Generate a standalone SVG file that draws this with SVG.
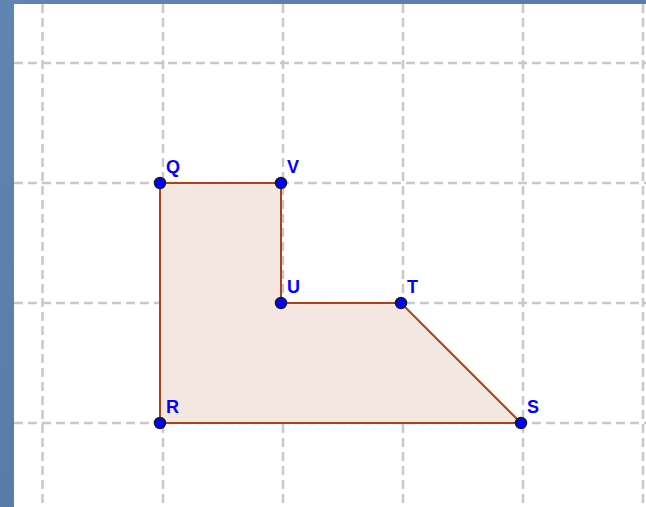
<svg xmlns="http://www.w3.org/2000/svg" width="646" height="507" viewBox="0 0 646 507">
<defs>
<linearGradient id="bg" x1="0" y1="0" x2="1" y2="1">
<stop offset="0" stop-color="#6085b0"/>
<stop offset="1" stop-color="#4f74a0"/>
</linearGradient>
<style>
.grid{stroke:#c8c8c8;stroke-width:2.5;stroke-dasharray:9,5;fill:none}
.edge{stroke:#a9441a;stroke-width:2;fill:none}
.pt{fill:#0000ff;stroke:#1a1a1a;stroke-width:1.5}
.lbl{font-family:"Liberation Sans",Arial,sans-serif;font-size:18px;font-weight:bold;fill:#0000ff}
</style>
</defs>
<rect x="0" y="0" width="646" height="507" fill="url(#bg)"/>
<rect x="14" y="4" width="632" height="503" fill="#ffffff"/>
<g id="grid">
<line class="grid" x1="42.5" y1="4" x2="42.5" y2="507"/>
<line class="grid" x1="163" y1="4" x2="163" y2="507"/>
<line class="grid" x1="283" y1="4" x2="283" y2="507"/>
<line class="grid" x1="403" y1="4" x2="403" y2="507"/>
<line class="grid" x1="523" y1="4" x2="523" y2="507"/>
<line class="grid" x1="643" y1="4" x2="643" y2="507"/>
<line class="grid" x1="14" y1="63" x2="646" y2="63"/>
<line class="grid" x1="14" y1="183" x2="646" y2="183"/>
<line class="grid" x1="14" y1="303" x2="646" y2="303"/>
<line class="grid" x1="14" y1="423" x2="646" y2="423"/>
</g>
<g id="polygon">
<polygon points="160,183 281,183 281,303 401,303 521,423 160,423" fill="#f4e7e1" stroke="none"/>
</g>
<g id="connectors">
<line class="edge" x1="160" y1="183" x2="281" y2="183"/>
<line class="edge" x1="281" y1="183" x2="281" y2="303"/>
<line class="edge" x1="281" y1="303" x2="401" y2="303"/>
<line class="edge" x1="401" y1="303" x2="521" y2="423"/>
<line class="edge" x1="521" y1="423" x2="160" y2="423"/>
<line class="edge" x1="160" y1="423" x2="160" y2="183"/>
</g>
<g id="Q"><circle class="pt" cx="160" cy="183" r="5.5"/><text class="lbl" x="166" y="173">Q</text></g>
<g id="V"><circle class="pt" cx="281" cy="183" r="5.5"/><text class="lbl" x="287" y="173">V</text></g>
<g id="U"><circle class="pt" cx="281" cy="303" r="5.5"/><text class="lbl" x="287" y="293">U</text></g>
<g id="T"><circle class="pt" cx="401" cy="303" r="5.5"/><text class="lbl" x="407" y="293">T</text></g>
<g id="S"><circle class="pt" cx="521" cy="423" r="5.5"/><text class="lbl" x="527" y="413">S</text></g>
<g id="R"><circle class="pt" cx="160" cy="423" r="5.5"/><text class="lbl" x="166" y="413">R</text></g>
</svg>
